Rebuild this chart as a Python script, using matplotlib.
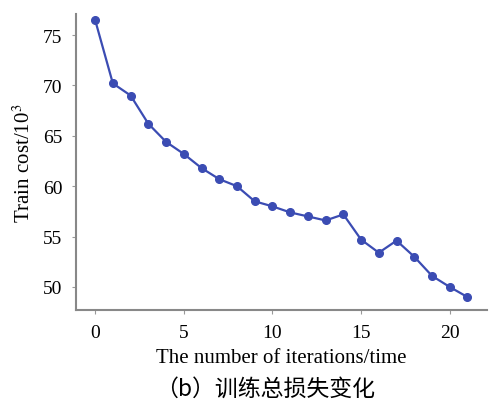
import matplotlib
matplotlib.use("Agg")
import matplotlib.pyplot as plt

iterations = list(range(22))
train_cost = [76.5, 70.2, 69.0, 66.2, 64.4, 63.2, 61.8, 60.7, 60.0, 58.5,
              58.0, 57.4, 57.0, 56.6, 57.2, 54.7, 53.4, 54.6, 53.0, 51.1,
              50.0, 49.0]
x_ticks = [0, 5, 10, 15, 20]
y_ticks = [50, 55, 60, 65, 70, 75]

plt.rcParams['font.family'] = ['Liberation Serif', 'Noto Sans CJK SC']
plt.rcParams['mathtext.fontset'] = 'stix'

fig = plt.figure(figsize=(5.01, 4.02), dpi=100)
ax = fig.add_axes([0.152, 0.226, 0.82, 0.737])

ax.plot(iterations, train_cost, color="#3b4cb3", linewidth=1.6,
        marker="o", markersize=5.5)

ax.set_xlim(-1.07, 22.1)
ax.set_ylim(47.7, 77.1)
ax.set_xticks(x_ticks)
ax.set_yticks(y_ticks)
ax.tick_params(labelsize=14, length=3, color="#999999", pad=7)

for side in ("top", "right"):
    ax.spines[side].set_visible(False)
for side in ("left", "bottom"):
    ax.spines[side].set_color("#888888")
    ax.spines[side].set_linewidth(1.5)

ax.set_xlabel("The number of iterations/time", fontsize=15, labelpad=5)
ax.set_ylabel("Train cost/10$^3$", fontsize=15, labelpad=6)

fig.text(0.53, 0.033, "（b）训练总损失变化", ha="center", va="center",
         fontsize=16.5, family=['Noto Sans CJK SC', 'Liberation Serif'])

fig.savefig("out.png", dpi=100)
